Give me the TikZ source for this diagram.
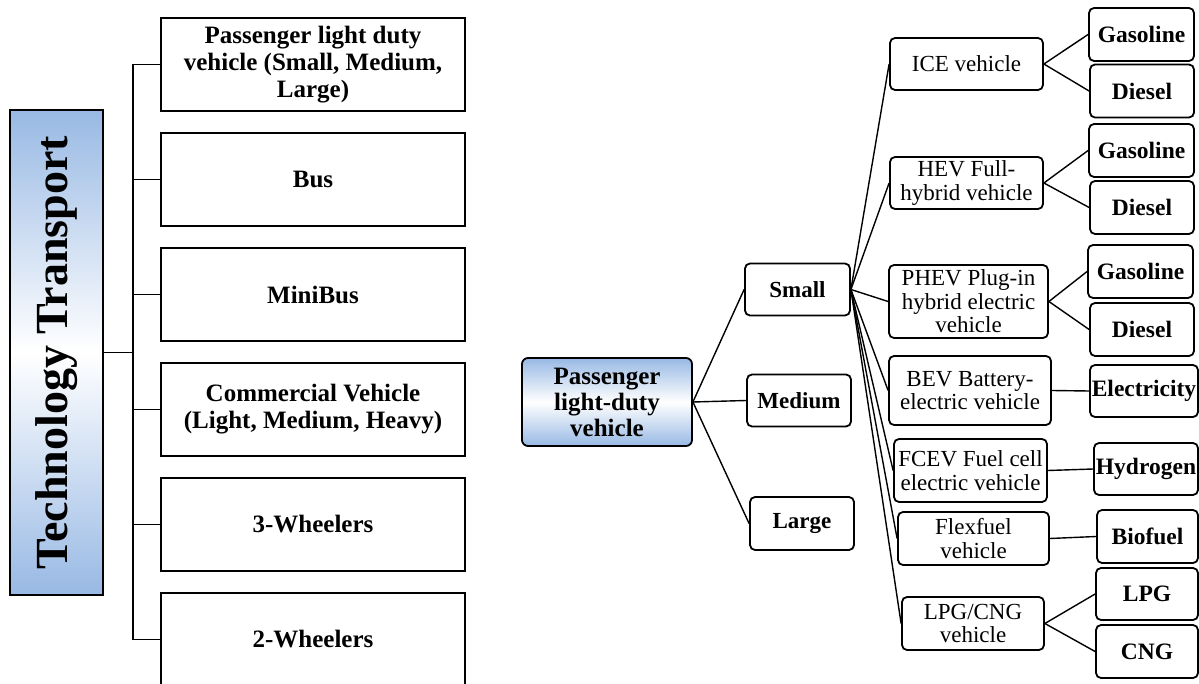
\documentclass[tikz,border=0pt]{standalone}
\usepackage{fontspec}
\setmainfont{Liberation Serif}
\usepackage{graphicx}
\usepackage{tikz}
\usetikzlibrary{positioning}
\definecolor{boxblue}{RGB}{152,185,228}

\begin{document}
\begin{tikzpicture}[x=1pt, y=-1pt,
        every node/.style={draw, line width=1.8pt, inner sep=1pt, align=center, text=black},
        techbox/.style={top color=boxblue, bottom color=boxblue, middle color=white,
            minimum width=93pt, minimum height=485pt, font=\fontsize{46}{50}\selectfont\bfseries},
        groupbox/.style={minimum width=304pt, minimum height=93pt, font=\fontsize{25}{27}\selectfont\bfseries},
        rootbox/.style={rounded corners=6pt, top color=boxblue, bottom color=boxblue, middle color=white,
            minimum width=170pt, minimum height=88pt, font=\fontsize{25}{26}\selectfont\bfseries},
        sizebox/.style={rounded corners=5pt, minimum width=104pt, minimum height=52pt, font=\fontsize{23}{24}\selectfont\bfseries},
        typebox/.style={rounded corners=5pt, minimum height=52pt, font=\fontsize{23}{23.5}\selectfont},
        fuelbox/.style={rounded corners=5pt, minimum width=104pt, minimum height=53pt, font=\fontsize{23.5}{24}\selectfont\bfseries},
        link/.style={line width=1.4pt}
    ]
        \useasboundingbox (0,0) rectangle (1199,684);

        % Cột bên trái
        \node [techbox] (tech) at (56.5,352.5) {\rotatebox{90}{Technology Transport}};
        \node [groupbox] (ldv) at (313,64.5) {Passenger light duty\\vehicle (Small, Medium,\\Large)};
        \node [groupbox] (bus) at (313,179.5) {Bus};
        \node [groupbox] (minibus) at (313,294.5) {MiniBus};
        \node [groupbox] (cv) at (313,409.5) {Commercial Vehicle\\(Light, Medium, Heavy)};
        \node [groupbox] (three) at (313,524.5) {3-Wheelers};
        \node [groupbox] (two) at (313,639.5) {2-Wheelers};

        \draw [link] (tech.east) -- ++(29,0) |- (ldv.west);
        \draw [link] (tech.east) -- ++(29,0) |- (bus.west);
        \draw [link] (tech.east) -- ++(29,0) |- (minibus.west);
        \draw [link] (tech.east) -- ++(29,0) |- (cv.west);
        \draw [link] (tech.east) -- ++(29,0) |- (three.west);
        \draw [link] (tech.east) -- ++(29,0) |- (two.west);

        % Cây bên phải
        \node [rootbox] (pldv) at (607,402) {Passenger\\light-duty\\vehicle};
        \node [sizebox, minimum width=105pt] (small) at (797.5,289.5) {Small};
        \node [sizebox] (medium) at (799,400.5) {Medium};
        \node [sizebox, minimum height=53pt] (large) at (802,523.5) {Large};

        \node [typebox, minimum width=153pt] (ice) at (966.5,64) {ICE vehicle};
        \node [typebox, minimum width=153pt] (hev) at (966.5,183) {HEV Full-\\hybrid vehicle};
        \node [typebox, minimum width=159pt, minimum height=73pt] (phev) at (968.5,301.5) {PHEV Plug-in\\hybrid electric\\vehicle};
        \node [typebox, minimum width=162pt, minimum height=69pt] (bev) at (970,390.5) {BEV Battery-\\electric vehicle};
        \node [typebox, minimum width=153pt, minimum height=63pt] (fcev) at (970.5,470.5) {FCEV Fuel cell\\electric vehicle};
        \node [typebox, minimum width=151pt, minimum height=53pt] (flex) at (973.5,538.5) {Flexfuel\\vehicle};
        \node [typebox, minimum width=142pt, minimum height=53pt] (lpgcng) at (973,623.5) {LPG/CNG\\vehicle};

        \node [fuelbox, minimum width=105pt] (gas1) at (1141.5,34.5) {Gasoline};
        \node [fuelbox] (dsl1) at (1142,91) {Diesel};
        \node [fuelbox, minimum width=105pt] (gas2) at (1141.5,150.5) {Gasoline};
        \node [fuelbox] (dsl2) at (1142,207.5) {Diesel};
        \node [fuelbox, minimum width=105pt] (gas3) at (1140.5,271.5) {Gasoline};
        \node [fuelbox] (dsl3) at (1142,329.5) {Diesel};
        \node [fuelbox, minimum width=108pt, minimum height=52pt] (elec) at (1144,391) {Electricity};
        \node [fuelbox, minimum width=104pt, minimum height=52pt] (hyd) at (1146,469) {Hydrogen};
        \node [fuelbox, minimum width=101pt] (bio) at (1147.5,536.5) {Biofuel};
        \node [fuelbox, minimum width=102pt, minimum height=52pt] (lpg) at (1147,594) {LPG};
        \node [fuelbox, minimum width=102pt] (cng) at (1147,651.5) {CNG};

        \draw [link] (pldv.east) -- (small.west);
        \draw [link] (pldv.east) -- (medium.west);
        \draw [link] (pldv.east) -- (large.west);

        \draw [link] (small.east) -- (ice.west);
        \draw [link] (small.east) -- (hev.west);
        \draw [link] (small.east) -- (phev.west);
        \draw [link] (small.east) -- (bev.west);
        \draw [link] (small.east) -- (fcev.west);
        \draw [link] (small.east) -- (flex.west);
        \draw [link] (small.east) -- (lpgcng.west);

        \draw [link] (ice.east) -- (gas1.west);
        \draw [link] (ice.east) -- (dsl1.west);
        \draw [link] (hev.east) -- (gas2.west);
        \draw [link] (hev.east) -- (dsl2.west);
        \draw [link] (phev.east) -- (gas3.west);
        \draw [link] (phev.east) -- (dsl3.west);
        \draw [link] (bev.east) -- (elec.west);
        \draw [link] (fcev.east) -- (hyd.west);
        \draw [link] (flex.east) -- (bio.west);
        \draw [link] (lpgcng.east) -- (lpg.west);
        \draw [link] (lpgcng.east) -- (cng.west);
    \end{tikzpicture}
\end{document}
